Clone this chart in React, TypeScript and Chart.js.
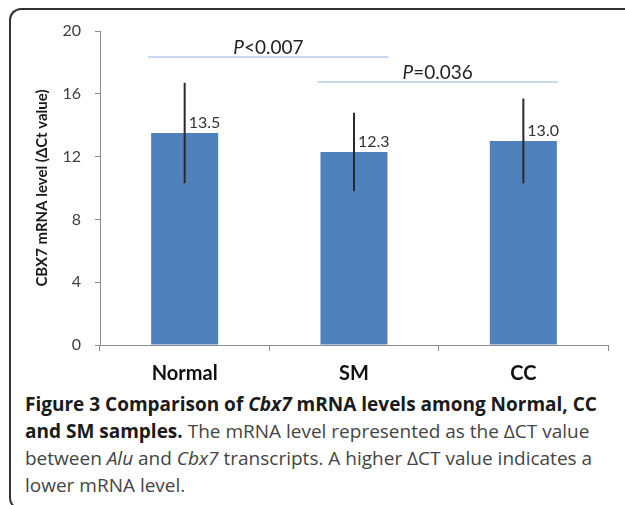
import React, { useEffect, useRef } from "react";
import { Chart, registerables } from "chart.js";

Chart.register(...registerables);

const categories = ["Normal", "SM", "CC"];
const means = [13.5, 12.3, 13.0];
const errors = [3.2, 2.5, 2.7];
const valueLabels = ["13.5", "12.3", "13.0"];
const yMax = 20;
const yStep = 4;
const sigFrom = [0, 1];
const sigTo = [1, 2];
const sigLevels = [18.35, 16.75];
const sigTexts = ["<0.007", "=0.036"];
const yTitle = "CBX7 mRNA level (\u0394Ct value)";

const FONT = "Lato, 'Open Sans', sans-serif";
const CAPTION_FONT = "'Open Sans', Lato, sans-serif";

const overlayPlugin = {
  id: "overlay",
  afterDatasetsDraw(chart: any) {
    const ctx = chart.ctx;
    const meta = chart.getDatasetMeta(0);
    const y = chart.scales.y;
    ctx.save();
    // error bars
    meta.data.forEach((bar: any, i: number) => {
      const x = bar.x;
      ctx.strokeStyle = "#2a2a2a";
      ctx.lineWidth = 2;
      ctx.beginPath();
      ctx.moveTo(x, y.getPixelForValue(means[i] + errors[i]));
      ctx.lineTo(x, y.getPixelForValue(means[i] - errors[i]));
      ctx.stroke();
      ctx.fillStyle = "#333";
      ctx.font = `16px ${FONT}`;
      ctx.textAlign = "left";
      ctx.textBaseline = "middle";
      ctx.fillText(valueLabels[i], x + 4, bar.y - 10);
    });
    // significance lines
    sigLevels.forEach((lvl, k) => {
      const a: any = meta.data[sigFrom[k]];
      const b: any = meta.data[sigTo[k]];
      const x1 = a.x - a.width / 2 - 3;
      const x2 = b.x + b.width / 2 + 1;
      const py = y.getPixelForValue(lvl);
      ctx.strokeStyle = "#c6d9f1";
      ctx.lineWidth = 2;
      ctx.beginPath();
      ctx.moveTo(x1, py);
      ctx.lineTo(x2, py);
      ctx.stroke();
      ctx.fillStyle = "#222";
      ctx.textBaseline = "middle";
      const pFont = `italic 19px ${FONT}`;
      const rFont = `19px ${FONT}`;
      ctx.font = pFont;
      const wP = ctx.measureText("P").width;
      ctx.font = rFont;
      const wR = ctx.measureText(sigTexts[k]).width;
      const total = wP + wR;
      const cx = (x1 + x2) / 2;
      const sx = cx - total / 2;
      const ty = py - 9;
      ctx.textAlign = "left";
      ctx.font = pFont;
      ctx.fillText("P", sx, ty);
      ctx.font = rFont;
      ctx.fillText(sigTexts[k], sx + wP, ty);
    });
    ctx.restore();
  },
};

export default function App() {
  const ref = useRef<HTMLCanvasElement | null>(null);
  useEffect(() => {
    if (!ref.current) return;
    const chart = new Chart(ref.current, {
      type: "bar",
      data: {
        labels: categories,
        datasets: [
          {
            data: means,
            backgroundColor: "#4f81bd",
            borderWidth: 0,
            barPercentage: 0.8,
            categoryPercentage: 0.495,
          },
        ],
      },
      options: {
        animation: false,
        responsive: false,
        maintainAspectRatio: false,
        layout: { padding: { top: 31, right: 17, left: 0, bottom: 0 } },
        plugins: {
          legend: { display: false },
          tooltip: { enabled: false },
        },
        scales: {
          x: {
            afterFit: (axis: any) => {
              axis.height = 45;
            },
            grid: {
              drawOnChartArea: false,
              tickLength: 6,
              color: "#8c8c8c",
              tickColor: "#8c8c8c",
            },
            border: { color: "#8c8c8c", width: 1 },
            ticks: {
              color: "#111",
              padding: 11,
              font: { family: FONT, size: 20, weight: "bold" },
            },
          },
          y: {
            min: 0,
            max: yMax,
            afterFit: (axis: any) => {
              axis.width = 100;
            },
            grid: {
              drawOnChartArea: false,
              tickLength: 5,
              color: "#8c8c8c",
              tickColor: "#8c8c8c",
            },
            border: { color: "#8c8c8c", width: 1 },
            ticks: {
              stepSize: yStep,
              color: "#404040",
              padding: 14,
              font: { family: FONT, size: 16 },
            },
            title: {
              display: true,
              text: yTitle,
              color: "#1a1a1a",
              padding: { top: 33, bottom: 0 },
              font: { family: FONT, size: 15, weight: "bold" },
            },
          },
        },
      },
      plugins: [overlayPlugin],
    });
    return () => chart.destroy();
  }, []);

  const boldStyle: React.CSSProperties = { fontWeight: 700, color: "#1a1a1a" };
  const lineStyle: React.CSSProperties = { whiteSpace: "nowrap", height: 27, lineHeight: "27px" };

  return (
    <div style={{ position: "absolute", left: 0, top: 0, width: 625, height: 505, overflow: "hidden", background: "#fff" }}>
      <div
        style={{
          position: "absolute",
          left: 9,
          top: 8,
          width: 700,
          height: 498,
          borderLeft: "2px solid #333",
          borderTop: "2px solid #333",
          borderBottom: "2px solid #333",
          borderTopLeftRadius: 12,
          borderBottomLeftRadius: 12,
        }}
      />
      <canvas ref={ref} width={625} height={390} style={{ position: "absolute", left: 0, top: 0, width: 625, height: 390 }} />
      <div
        style={{
          position: "absolute",
          left: 25,
          top: 391,
          fontFamily: CAPTION_FONT,
          fontSize: 19,
          color: "#444",
        }}
      >
        <div style={{ ...lineStyle, ...boldStyle }}>
          Figure 3 Comparison of <i>Cbx7</i> mRNA levels among Normal, CC
        </div>
        <div style={lineStyle}>
          <span style={boldStyle}>and SM samples.</span> The mRNA level represented as the {"\u0394"}CT value
        </div>
        <div style={lineStyle}>
          between <i>Alu</i> and <i>Cbx7</i> transcripts. A higher {"\u0394"}CT value indicates a
        </div>
        <div style={lineStyle}>lower mRNA level.</div>
      </div>
    </div>
  );
}
